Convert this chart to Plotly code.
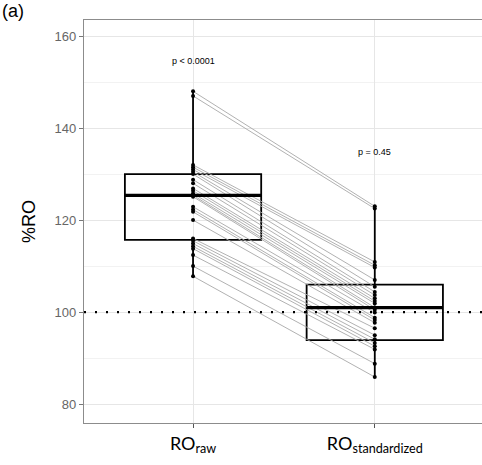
import plotly.graph_objects as go

categories = ["RO<sub>raw</sub>", "RO<sub>standardized</sub>"]
cat_pos = [1, 2]

ro_raw = [148, 147, 132, 131.5, 131, 130.5, 130, 128.8, 128, 126.9, 126.4, 125.8, 125.4,
          125.1, 122.9, 122.3, 121.8, 120, 116, 115.5, 114.9, 114.3, 113.8, 112.4, 110, 107.8]
ro_std = [123, 122.5, 110.9, 110.2, 109.7, 107, 105.5, 104.4, 103.7, 103.0, 102.4, 101.9, 101.0,
          100.5, 99.9, 98.8, 98.3, 97.7, 96.5, 95.0, 94.1, 93.3, 92.6, 91.9, 88.8, 85.9]

box_q1 = [115.7, 93.9]
box_median = [125.4, 101.0]
box_q3 = [130.0, 106.0]
box_low = [107.8, 85.9]
box_high = [148.0, 123.0]

p_labels = ["p < 0.0001", "p = 0.45"]
p_y = [154.6, 134.8]

reference_line = 100
box_width = 0.75

fig = go.Figure()

# paired lines
for a, b in zip(ro_raw, ro_std):
    fig.add_trace(go.Scatter(x=cat_pos, y=[a, b], mode="lines",
                             line=dict(color="#a8a8a8", width=0.9),
                             hoverinfo="skip", showlegend=False))

fig.add_trace(go.Box(x=cat_pos, q1=box_q1, median=box_median, q3=box_q3,
                     lowerfence=box_low, upperfence=box_high,
                     width=box_width, whiskerwidth=0,
                     line=dict(color="black", width=1.8),
                     fillcolor="rgba(255,255,255,0)", showlegend=False,
                     boxpoints=False))

# thicker median (ggplot fatten)
for xp, m in zip(cat_pos, box_median):
    fig.add_trace(go.Scatter(x=[xp - box_width / 2, xp + box_width / 2], y=[m, m],
                             mode="lines", line=dict(color="black", width=3.2),
                             hoverinfo="skip", showlegend=False))

fig.add_trace(go.Scatter(x=[cat_pos[0]] * len(ro_raw) + [cat_pos[1]] * len(ro_std),
                         y=ro_raw + ro_std, mode="markers",
                         marker=dict(color="black", size=4), showlegend=False))

fig.add_hline(y=reference_line, line=dict(color="black", width=2.2, dash="2px,9px"))

for xp, lab, yy in zip(cat_pos, p_labels, p_y):
    fig.add_annotation(x=xp, y=yy, text=lab, showarrow=False,
                       font=dict(family="Liberation Sans, Arial", size=9, color="black"))

fig.add_annotation(x=0, y=1, xref="paper", yref="paper", xanchor="left", yanchor="top",
                   text="(a)", showarrow=False, xshift=-84, yshift=21,
                   font=dict(family="Liberation Sans, Arial", size=18, color="black"))

fig.update_layout(
    width=482, height=465,
    margin=dict(l=84, r=0, t=20, b=42),
    paper_bgcolor="white", plot_bgcolor="white",
    xaxis=dict(range=[0.4, 2.59], tickmode="array", tickvals=cat_pos, ticktext=categories,
               showgrid=True, gridcolor="#e6e6e6", gridwidth=1,
               showline=True, linecolor="#8c8c8c", linewidth=1.2, mirror=True,
               ticks="outside", ticklen=4, tickcolor="#555555", zeroline=False,
               tickfont=dict(family="Lato, Open Sans", size=18, color="black")),
    yaxis=dict(range=[75.9, 163.5], tickvals=[80, 100, 120, 140, 160],
               showgrid=True, gridcolor="#e6e6e6", gridwidth=1,
               minor=dict(tickvals=[90, 110, 130, 150], showgrid=True,
                          gridcolor="#f2f2f2", gridwidth=1),
               showline=True, linecolor="#8c8c8c", linewidth=1.2, mirror=True,
               ticks="outside", ticklen=4, tickcolor="#777777", zeroline=False,
               tickfont=dict(family="Liberation Sans, Arial", size=13, color="#666666"),
               title=dict(text="%RO", standoff=14,
                          font=dict(family="Liberation Sans, Arial", size=18, color="black"))),
)

fig.write_html("out.html", config={"displayModeBar": False},
               post_script="document.body.style.margin='0px';")
